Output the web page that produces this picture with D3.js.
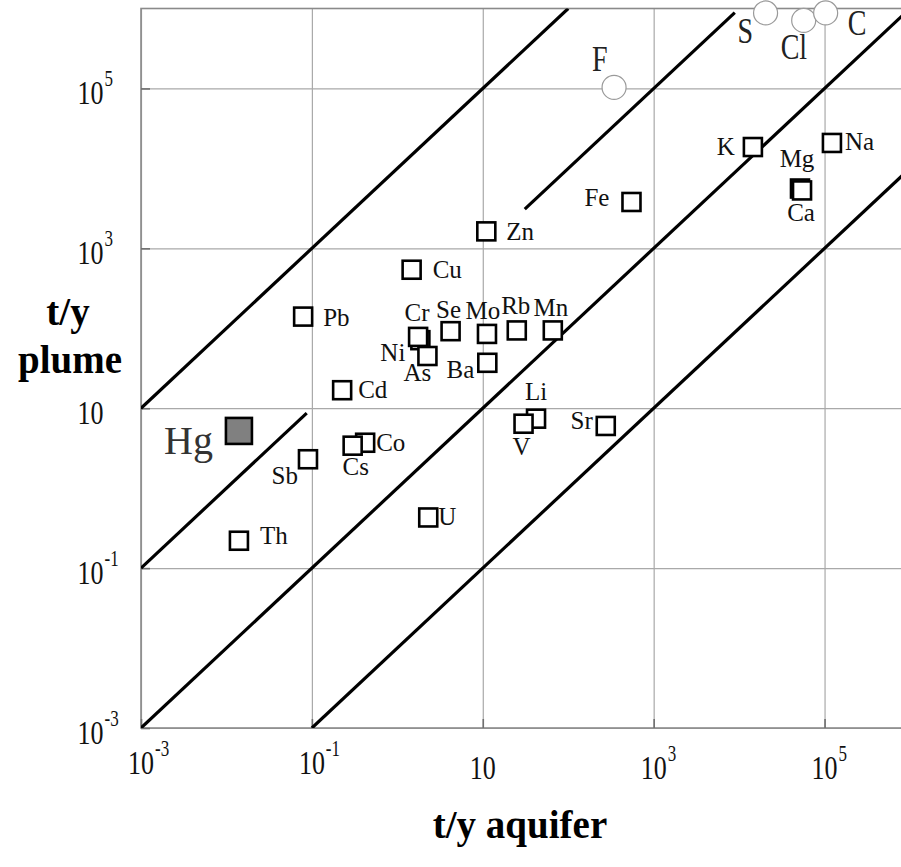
<!DOCTYPE html>
<html>
<head>
<meta charset="utf-8">
<script src="https://cdn.jsdelivr.net/npm/d3@7"></script>
<style>
  body { margin: 0; background: #fff; }
  svg { display: block; }
  text { font-family: "Liberation Serif", "Times New Roman", serif; }
</style>
</head>
<body>
<svg id="chart" width="901" height="867"></svg>
<script>
// Element fluxes (t/y): aquifer discharge vs. plume discharge
const elements    = ["Pb", "Cu", "Zn", "Fe", "K", "Na", "Mg", "Ca", "Ni", "Cr", "As", "Se", "Mo", "Rb", "Mn", "Ba", "Cd", "Hg", "Sb", "Co", "Cs", "Li", "V", "Sr", "Th", "U"];
const aquiferFlux = [0.079, 1.47, 11, 550, 14500, 122000, 51600, 54500, 1.86, 1.75, 2.25, 4.2, 11.2, 25, 66, 11.3, 0.226, 0.014, 0.09, 0.42, 0.30, 42, 30, 275, 0.014, 2.3];
const plumeFlux   = [140, 540, 1630, 3800, 18500, 20800, 5600, 5300, 71, 78, 45, 92, 85, 94, 94, 37, 16.8, 5.2, 2.3, 3.7, 3.4, 7.4, 6.4, 6.0, 0.22, 0.43];
const highlighted = "Hg";

// Volatile / anion-forming elements, drawn as circles
const gases          = ["F", "S", "Cl", "C"];
const gasAquiferFlux = [344, 20400, 57000, 103000];
const gasPlumeFlux   = [103000, 880000, 710000, 880000];

// Reference lines: plume = factor × aquifer, drawn over the given aquifer range
const ratioFactor = [1e4, 1e2, 1e2, 1, 1e-2];
const ratioFrom   = [1e-3, 1e-3, 31, 1e-3, 1e-1];
const ratioTo     = [1e2, 0.087, 8900, 1e6, 1e6];

// Axis ticks (powers of ten) and titles
const xTickExponents = [-3, -1, 1, 3, 5];
const yTickExponents = [5, 3, 1, -1, -3];
const xTitle = "t/y aquifer";
const yTitle = ["t/y", "plume"];

// ---- label placement around each marker: [dx, dy, anchor] ----
const labelPlacement = {
  Pb: [20, 9, "start"],   Cu: [21, 8, "start"],   Zn: [20, 9, "start"],
  Fe: [-22, 4, "end"],    K: [-18, 8, "end"],     Na: [13, 7, "start"],
  Mg: [-3, -22, "middle"], Ca: [-1, 31, "middle"], Ni: [-15, 21, "end"],
  Cr: [-1, -16, "middle"], As: [-10, 25, "middle"], Se: [-2, -13, "middle"],
  Mo: [-4, -15, "middle"], Rb: [-1, -16, "middle"], Mn: [-2, -14, "middle"],
  Ba: [-13, 15, "end"],   Cd: [16, 8, "start"],   Hg: [-26, 23, "end"],
  Sb: [-10, 25, "end"],   Co: [11, 8, "start"],   Cs: [3, 29, "middle"],
  Li: [0, -19, "middle"], V: [-2, 31, "middle"],  Sr: [-13, 3, "end"],
  Th: [21, 3, "start"],   U: [10, 8, "start"],
  F: [-22, -16, "start"], S: [-28, 30, "start"],  Cl: [-23, 39, "start"],
  C: [22, 22, "start"]
};

const svg = d3.select("#chart");
const W = 901, H = 867;
const plot = { left: 141, top: 8.5, right: 910, bottom: 728 };

svg.append("rect").attr("width", W).attr("height", H).attr("fill", "#fff");

const x = d3.scaleLog().domain([1e-3, 1e6]).range([plot.left, plot.right]);
const y = d3.scaleLog().domain([1e-3, 1e6]).range([plot.bottom, plot.top]);

const xTicks = xTickExponents.map(e => Math.pow(10, e));
const yTicks = yTickExponents.map(e => Math.pow(10, e));

svg.append("defs").append("clipPath").attr("id", "plot-clip")
  .append("rect")
  .attr("x", plot.left).attr("y", plot.top)
  .attr("width", plot.right - plot.left).attr("height", plot.bottom - plot.top);

// ---- grid ----
const grid = svg.append("g").attr("class", "grid");
grid.append("g")
  .attr("transform", `translate(0,${plot.bottom})`)
  .call(d3.axisBottom(x).tickValues(xTicks).tickSize(-(plot.bottom - plot.top)).tickFormat(""))
  .call(g => g.select(".domain").remove())
  .call(g => g.selectAll("line").attr("stroke", "#a9a9a9").attr("stroke-width", 1.2));
grid.append("g")
  .attr("transform", `translate(${plot.left},0)`)
  .call(d3.axisLeft(y).tickValues(yTicks).tickSize(-(plot.right - plot.left)).tickFormat(""))
  .call(g => g.select(".domain").remove())
  .call(g => g.selectAll("line").attr("stroke", "#a9a9a9").attr("stroke-width", 1.2));

// ---- frame and inward ticks ----
const frame = svg.append("g").attr("class", "frame");
frame.append("rect")
  .attr("x", plot.left).attr("y", plot.top)
  .attr("width", plot.right - plot.left).attr("height", plot.bottom - plot.top)
  .attr("fill", "none").attr("stroke", "#8a8a8a").attr("stroke-width", 1.6);
frame.append("g")
  .attr("transform", `translate(0,${plot.bottom})`)
  .call(d3.axisBottom(x).tickValues(xTicks).tickSize(-9).tickFormat(""))
  .call(g => g.select(".domain").remove())
  .call(g => g.selectAll("line").attr("stroke", "#6f6f6f").attr("stroke-width", 1.6));
frame.append("g")
  .attr("transform", `translate(${plot.left},0)`)
  .call(d3.axisLeft(y).tickValues(yTicks).tickSize(-9).tickFormat(""))
  .call(g => g.select(".domain").remove())
  .call(g => g.selectAll("line").attr("stroke", "#6f6f6f").attr("stroke-width", 1.6));

// ---- ratio lines ----
const ratioSegments = ratioFactor.map((k, i) => [
  [ratioFrom[i], ratioFrom[i] * k],
  [ratioTo[i], ratioTo[i] * k]
]);
const lineGen = d3.line().x(d => x(d[0])).y(d => y(d[1]));
svg.append("g").attr("clip-path", "url(#plot-clip)")
  .selectAll("path").data(ratioSegments).join("path")
  .attr("d", lineGen)
  .attr("fill", "none").attr("stroke", "#000").attr("stroke-width", 3.2);

// ---- tick labels: 10 with superscript exponent ----
function powerLabel(g, exp, fontSize, supSize) {
  const t = g.append("text").attr("fill", "#111").attr("font-size", fontSize);
  t.append("tspan").text("10");
  if (exp !== 1) {
    t.append("tspan").attr("dx", 1).attr("dy", -Math.round(fontSize * 0.55))
      .attr("font-size", supSize).text(String(exp));
  }
  return t;
}

const yLabels = svg.append("g").attr("class", "y-tick-labels");
yTickExponents.forEach((e, i) => {
  const g = yLabels.append("g")
    .attr("transform", `translate(77.5,${y(yTicks[i]) + 16}) scale(1,1.3)`);
  powerLabel(g, e, 26, 17);
});

const xLabels = svg.append("g").attr("class", "x-tick-labels");
xTickExponents.forEach((e, i) => {
  const baseline = e < 0 ? 774 : 779;
  const g = xLabels.append("g")
    .attr("transform", `translate(${x(xTicks[i]) - 13},${baseline}) scale(1,1.3)`);
  powerLabel(g, e, 26, 17);
});

// ---- axis titles ----
svg.append("text")
  .attr("x", 520).attr("y", 838)
  .attr("text-anchor", "middle").attr("font-weight", "bold").attr("font-size", 39)
  .attr("fill", "#000").text(xTitle);
const yt = svg.append("g").attr("class", "y-title");
yt.append("text").attr("x", 68).attr("y", 325)
  .attr("text-anchor", "middle").attr("font-weight", "bold").attr("font-size", 39)
  .attr("fill", "#000").text(yTitle[0]);
yt.append("text").attr("x", 70).attr("y", 373)
  .attr("text-anchor", "middle").attr("font-weight", "bold").attr("font-size", 39)
  .attr("fill", "#000").text(yTitle[1]);

// ---- circle markers (volatiles) ----
const gasData = gases.map((n, i) => ({ name: n, a: gasAquiferFlux[i], p: gasPlumeFlux[i] }));
const gasG = svg.append("g").attr("class", "gases");
gasG.selectAll("circle").data(gasData).join("circle")
  .attr("cx", d => x(d.a)).attr("cy", d => y(d.p)).attr("r", 12)
  .attr("fill", "#fff").attr("stroke", "#9a9a9a").attr("stroke-width", 1.2);
gasData.forEach(d => {
  const [dx, dy, anchor] = labelPlacement[d.name];
  gasG.append("g")
    .attr("transform", `translate(${x(d.a) + dx},${y(d.p) + dy}) scale(1,1.25)`)
    .append("text")
    .attr("text-anchor", anchor).attr("font-size", 28).attr("fill", "#222")
    .text(d.name);
});

// ---- square markers (elements) ----
const elemData = elements.map((n, i) => ({ name: n, a: aquiferFlux[i], p: plumeFlux[i] }));
const elemG = svg.append("g").attr("class", "elements");
elemG.selectAll("rect").data(elemData).join("rect")
  .attr("x", d => x(d.a) - (d.name === highlighted ? 13 : 9))
  .attr("y", d => y(d.p) - (d.name === highlighted ? 13 : 9))
  .attr("width", d => d.name === highlighted ? 26 : 18)
  .attr("height", d => d.name === highlighted ? 26 : 18)
  .attr("fill", d => d.name === highlighted ? "#808080" : "#fff")
  .attr("stroke", "#000")
  .attr("stroke-width", 2.6);
elemG.selectAll("text").data(elemData).join("text")
  .attr("x", d => x(d.a) + labelPlacement[d.name][0])
  .attr("y", d => y(d.p) + labelPlacement[d.name][1])
  .attr("text-anchor", d => labelPlacement[d.name][2])
  .attr("font-size", d => d.name === highlighted ? 40 : 25)
  .attr("fill", d => d.name === highlighted ? "#333" : "#111")
  .text(d => d.name);
</script>
</body>
</html>
